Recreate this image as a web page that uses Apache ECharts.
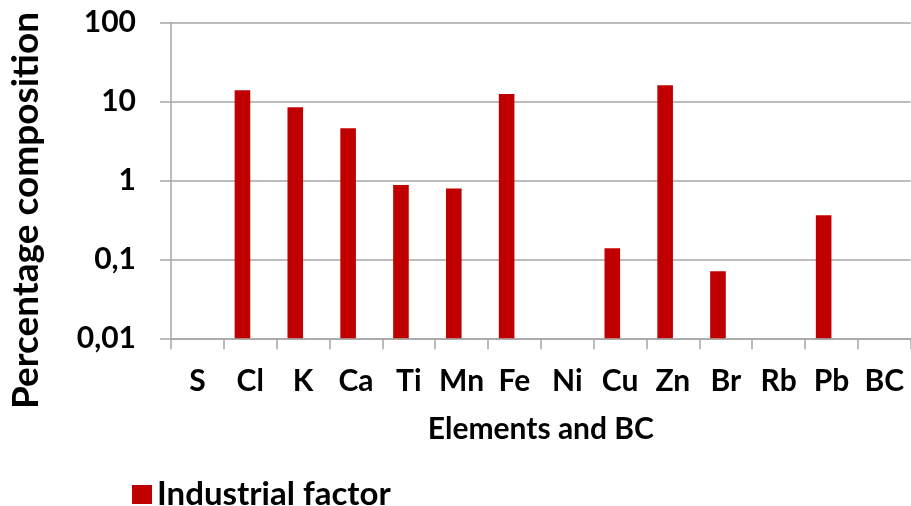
<!DOCTYPE html>
<html><head><meta charset="utf-8">
<script src="https://cdn.jsdelivr.net/npm/echarts@6/dist/echarts.min.js"></script>
<style>html,body{margin:0;padding:0;background:#fff}#c{width:911px;height:506px}</style>
</head><body><div id="c"></div>
<script>
const categories = ['S','Cl','K','Ca','Ti','Mn','Fe','Ni','Cu','Zn','Br','Rb','Pb','BC'];
const industrial = [null,13.9,8.5,4.6,0.88,0.79,12.5,null,0.138,16.1,0.0706,null,0.362,null];
const yTickLabels = ['0,01','0,1','1','10','100'];
const FONT = 'Lato';
const chart = echarts.init(document.getElementById('c'));
chart.setOption({
  animation:false,
  grid:{left:171,right:0.3,top:22.7,bottom:167.7,containLabel:false},
  legend:{data:['Industrial factor'],left:127,top:473,icon:'rect',itemWidth:20,itemHeight:19,itemGap:10,
    textStyle:{fontFamily:FONT,fontWeight:'bold',fontSize:33,color:'#000'}},
  xAxis:{type:'category',data:categories,
    name:'Elements and BC',nameLocation:'middle',nameGap:76,nameMoveOverlap:false,
    nameTextStyle:{fontFamily:FONT,fontWeight:'bold',fontSize:30,color:'#000'},
    axisLine:{lineStyle:{color:'#a6a6a6',width:1.5}},
    axisTick:{show:true,length:11,lineStyle:{color:'#a6a6a6',width:1.5},alignWithLabel:false},
    axisLabel:{margin:28,fontFamily:FONT,fontWeight:'bold',fontSize:30,color:'#000',interval:0},
    splitLine:{show:false}},
  yAxis:{type:'log',logBase:10,min:0.01,max:100,startValue:0.01,
    name:'Percentage composition',nameLocation:'middle',nameGap:126,nameRotate:90,nameMoveOverlap:false,
    nameTextStyle:{fontFamily:FONT,fontWeight:'bold',fontSize:37,color:'#000',padding:[0,60,0,0]},
    axisLine:{show:true,lineStyle:{color:'#a6a6a6',width:1.5}},
    axisTick:{show:true,length:11,lineStyle:{color:'#a6a6a6',width:1.5}},
    axisLabel:{margin:35,fontFamily:FONT,fontWeight:'bold',fontSize:30,color:'#000',
      formatter:v=>yTickLabels[Math.round(Math.log10(v))+2]},
    splitLine:{show:true,lineStyle:{color:'#a6a6a6',width:1.5}},
    minorTick:{show:false}},
  series:[
    {name:'Industrial factor',type:'bar',data:industrial,barWidth:15.6,barGap:'0%',
      itemStyle:{color:'#C00000'}},
    {name:'hidden',type:'bar',data:categories.map(()=>null),barWidth:15.6,barGap:'0%',
      itemStyle:{color:'transparent'}}
  ]
});
</script></body></html>
